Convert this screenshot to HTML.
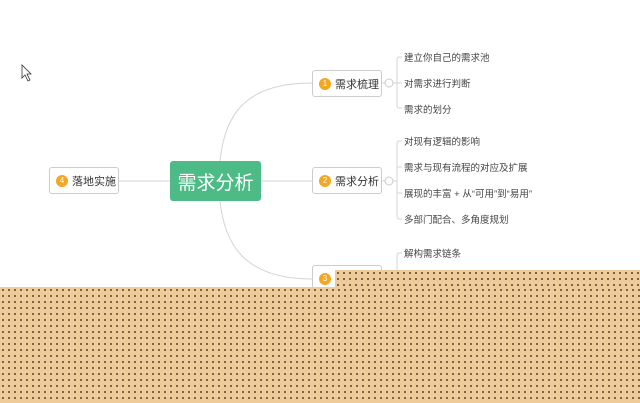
<!DOCTYPE html>
<html><head><meta charset="utf-8"><style>
body{margin:0;width:640px;height:403px;overflow:hidden;background:#fff;position:relative;font-family:"Liberation Sans","Noto Sans CJK SC",sans-serif}
.n{position:absolute;background:#fff;border:1px solid #ccc;border-radius:3px;font-size:11px;color:#333;box-sizing:border-box;display:flex;align-items:center;padding-left:6px}
.b{display:inline-block;width:12px;height:12px;border-radius:50%;background:#f5a623;color:#fff;font-size:8px;text-align:center;line-height:12px;margin-right:4px}
.l{position:absolute;font-size:9.5px;color:#444;white-space:nowrap}
.pat{position:absolute;background-color:#eecb98;background-image:radial-gradient(circle,#5a4a35 0.9px,transparent 1.1px);background-size:6px 6px}
</style></head><body>
<svg width="640" height="403" style="position:absolute;left:0;top:0">
<g fill="none" stroke="#d4d4d4" stroke-width="1">
<path d="M119 181 H170"/><path d="M261 181 H312"/>
<path d="M220 161 C225 110 250 83 312 83"/>
<path d="M220 201 C225 250 250 279 312 279"/>
<path d="M382 83 H397"/><path d="M382 181 H397"/><path d="M382 279 H397"/>
<path d="M402 57 H399 Q397 57 397 60 V105 Q397 108 399 108 H402"/>
<path d="M397 83 H402"/>
<path d="M402 141 H399 Q397 141 397 144 V216 Q397 219 399 219 H402"/>
<path d="M397 167 H402 M397 193 H402"/>
<path d="M402 253 H399 Q397 253 397 256 V280"/>
</g>
<g fill="#fff" stroke="#ccc"><circle cx="389" cy="83" r="4"/><circle cx="389" cy="181" r="4"/></g>
<path d="M22 65 V78 L25 75 L28 81 L30 80 L27 74 L31 74 Z" fill="#fff" stroke="#333" stroke-width="0.8"/>
</svg>
<div style="position:absolute;left:170px;top:161px;width:91px;height:40px;background:#4cbb85;border-radius:3px;color:#fff;font-size:19px;display:flex;align-items:center;justify-content:center">需求分析</div>
<div class="n" style="left:49px;top:167px;width:70px;height:27px"><span class="b">4</span>落地实施</div>
<div class="n" style="left:312px;top:70px;width:70px;height:27px"><span class="b">1</span>需求梳理</div>
<div class="n" style="left:312px;top:167px;width:70px;height:27px"><span class="b">2</span>需求分析</div>
<div class="n" style="left:312px;top:265px;width:70px;height:27px"><span class="b">3</span>需求实施</div>
<div class="l" style="left:404px;top:50px">建立你自己的需求池</div>
<div class="l" style="left:404px;top:76px">对需求进行判断</div>
<div class="l" style="left:404px;top:102px">需求的划分</div>
<div class="l" style="left:404px;top:134px">对现有逻辑的影响</div>
<div class="l" style="left:404px;top:160px">需求与现有流程的对应及扩展</div>
<div class="l" style="left:404px;top:186px">展现的丰富 + 从“可用”到“易用”</div>
<div class="l" style="left:404px;top:212px">多部门配合、多角度规划</div>
<div class="l" style="left:404px;top:246px">解构需求链条</div>
<div class="pat" style="left:0;top:287px;width:640px;height:116px"></div>
<div class="pat" style="left:335px;top:270px;width:305px;height:17px"></div>
</body></html>
